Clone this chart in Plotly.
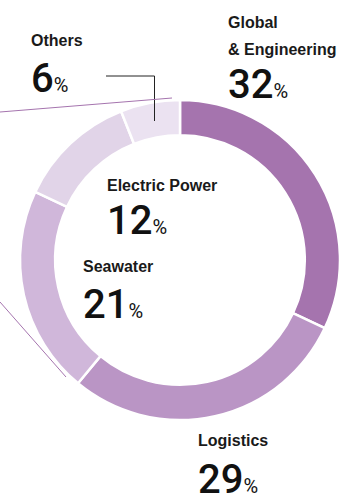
import plotly.graph_objects as go

W, H = 340, 500

segments = ["Global & Engineering", "Logistics", "Seawater", "Electric Power", "Others"]
shares = [32, 29, 21, 12, 6]
colors = ["#a574ae", "#ba95c5", "#d0b7da", "#e1d4e8", "#ebe2f1"]

# label layout
label_names = [["Global", "& Engineering"], ["Logistics"], ["Seawater"], ["Electric Power"], ["Others"]]
label_x = [226, 196, 81, 105, 29]
label_y = [[22, 50], [440], [266.5], [185.5], [41]]
number_y = [84, 479, 304, 221, 78.5]

fig = go.Figure()
fig.add_trace(go.Pie(
    labels=segments,
    values=shares,
    sort=False,
    direction="clockwise",
    rotation=0,
    hole=0.78,
    marker=dict(colors=colors, line=dict(color="white", width=2.5)),
    textinfo="none",
    hoverinfo="none",
    showlegend=False,
    domain=dict(x=[20 / W, 1], y=[80 / H, 400 / H]),
))

def px(x):
    return x / W

def py(y):
    return 1 - y / H

annotations = []
for names, share, x, ys, ny in zip(label_names, shares, label_x, label_y, number_y):
    for name, y in zip(names, ys):
        annotations.append(dict(
            x=px(x), y=py(y), xref="paper", yref="paper",
            xanchor="left", yanchor="middle", showarrow=False,
            text="<b>" + name + "</b>",
            font=dict(family="Liberation Sans, Arial, sans-serif", size=16, color="#1a1a1a"),
        ))
    annotations.append(dict(
        x=px(x), y=py(ny), xref="paper", yref="paper",
        xanchor="left", yanchor="middle", showarrow=False,
        text=f"{share}<span style='font-size:20px;font-weight:400'>%</span>",
        font=dict(family="Roboto, Liberation Sans, sans-serif", size=40, color="#111111", weight=500),
    ))

shapes = [
    # leader line for Others
    dict(type="path", xref="paper", yref="paper",
         path=f"M {px(106)},{py(76)} L {px(154.5)},{py(76)} L {px(154.5)},{py(121)}",
         line=dict(color="#222222", width=1)),
    # purple connector lines to the left
    dict(type="line", xref="paper", yref="paper",
         x0=px(0), y0=py(112), x1=px(172), y1=py(98),
         line=dict(color="#a574ae", width=1)),
    dict(type="line", xref="paper", yref="paper",
         x0=px(0), y0=py(302), x1=px(66), y1=py(377),
         line=dict(color="#a574ae", width=1)),
]

fig.update_layout(
    width=W, height=H,
    margin=dict(l=0, r=0, t=0, b=0),
    paper_bgcolor="white", plot_bgcolor="white",
    annotations=annotations,
    shapes=shapes,
)

fig.write_html("out.html")
